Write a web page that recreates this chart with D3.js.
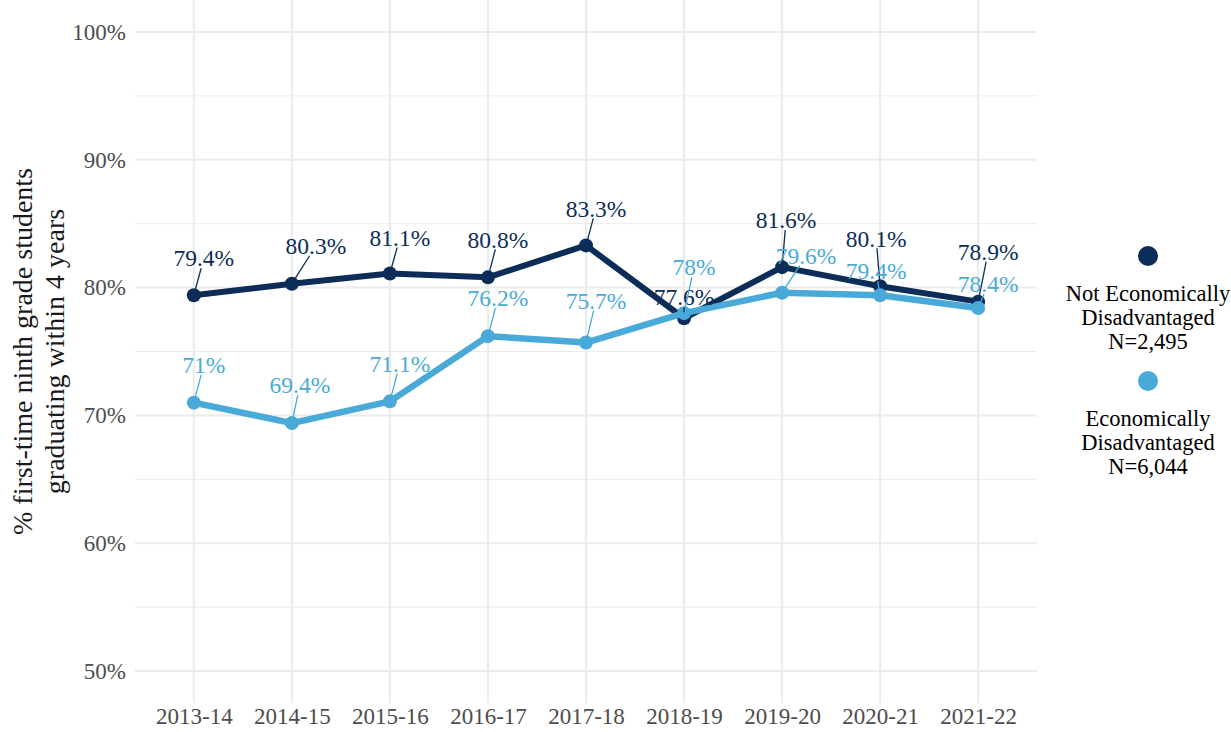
<!DOCTYPE html>
<html>
<head>
<meta charset="utf-8">
<script src="https://cdn.jsdelivr.net/npm/d3@7"></script>
<style>
  body { margin: 0; background: #fff; }
  svg { display: block; font-family: "Liberation Serif", "DejaVu Serif", serif; }
</style>
</head>
<body>
<svg id="chart" width="1231" height="732"></svg>
<script>
// ---- data ----
const years = ["2013-14","2014-15","2015-16","2016-17","2017-18","2018-19","2019-20","2020-21","2021-22"];
const notEconDis = [79.4, 80.3, 81.1, 80.8, 83.3, 77.6, 81.6, 80.1, 78.9];
const econDis = [71, 69.4, 71.1, 76.2, 75.7, 78, 79.6, 79.4, 78.4];
const seriesNames = ["Not Economically\nDisadvantaged\nN=2,495", "Economically\nDisadvantaged\nN=6,044"];
const yTicks = [50, 60, 70, 80, 90, 100];
const yMinor = [55, 65, 75, 85, 95];

// ---- layout (label repel offsets, px, relative to point) ----
const labelOffsetDark = [[10,-37],[24,-38],[10,-36],[10,-38],[10,-37],[0,-21],[4,-47],[-4,-48],[10,-50]];
const labelOffsetLight = [[10,-38],[8,-38],[10,-38],[10,-38],[10,-42],[10,-46],[24,-37],[-4,-24],[10,-24]];

const colors = ["#0c2d57", "#49aad9"];
const svg = d3.select("#chart");
const margin = {left: 135, right: 1037, top: 0, bottom: 703};

const x = d3.scalePoint().domain(years).range([margin.left, margin.right]).padding(0.6);
const y = d3.scaleLinear().domain([47.5, 102.5]).range([margin.bottom, margin.top]);

const grid = svg.append("g");
grid.selectAll(".minor").data(yMinor).join("line")
  .attr("x1", margin.left).attr("x2", margin.right)
  .attr("y1", d => y(d)).attr("y2", d => y(d))
  .attr("stroke", "#ebebeb").attr("stroke-width", 1);
grid.selectAll(".major").data(yTicks).join("line")
  .attr("x1", margin.left).attr("x2", margin.right)
  .attr("y1", d => y(d)).attr("y2", d => y(d))
  .attr("stroke", "#ebebeb").attr("stroke-width", 2);
grid.selectAll(".vx").data(years).join("line")
  .attr("x1", d => x(d)).attr("x2", d => x(d))
  .attr("y1", margin.top).attr("y2", margin.bottom)
  .attr("stroke", "#ebebeb").attr("stroke-width", 2);

// axes (text only)
const yAxis = svg.append("g").attr("transform", `translate(${margin.left},0)`)
  .call(d3.axisLeft(y).tickValues(yTicks).tickFormat(d => d + "%").tickSize(0).tickPadding(9));
yAxis.select(".domain").remove();
yAxis.selectAll("text").attr("font-size", 23).attr("fill", "#4d4d4d").attr("font-family", "Liberation Serif");

const xAxis = svg.append("g").attr("transform", `translate(0,${margin.bottom})`)
  .call(d3.axisBottom(x).tickSize(0).tickPadding(5));
xAxis.select(".domain").remove();
xAxis.selectAll("text").attr("font-size", 23).attr("fill", "#4d4d4d").attr("font-family", "Liberation Serif");

// y title
const yTitle = svg.append("text")
  .attr("transform", `translate(22,${(margin.top + margin.bottom) / 2}) rotate(-90)`)
  .attr("text-anchor", "middle").attr("font-size", 28).attr("fill", "#1a1a1a");
yTitle.append("tspan").attr("x", 0).attr("dy", "0.35em").text("% first-time ninth grade students");
yTitle.append("tspan").attr("x", 0).attr("dy", "1.15em").text("graduating within 4 years");

const series = [notEconDis, econDis];
const offsets = [labelOffsetDark, labelOffsetLight];
const line = d3.line().x((d, i) => x(years[i])).y(d => y(d));

series.forEach((vals, s) => {
  svg.append("path").datum(vals)
    .attr("d", line).attr("fill", "none")
    .attr("stroke", colors[s]).attr("stroke-width", s === 0 ? 6 : 6.5)
    .attr("stroke-linejoin", "round");
  svg.append("g").selectAll("circle").data(vals).join("circle")
    .attr("cx", (d, i) => x(years[i])).attr("cy", d => y(d))
    .attr("r", 7).attr("fill", colors[s]);
});

series.forEach((vals, s) => {
  const g = svg.append("g");
  vals.forEach((v, i) => {
    const px = x(years[i]), py = y(v);
    const [dx, dy] = offsets[s][i];
    const cx = px + dx, cy = py + dy;
    const t = g.append("text")
      .attr("x", cx).attr("y", cy).attr("dy", "0.35em")
      .attr("text-anchor", "middle").attr("font-size", 23.5)
      .attr("fill", colors[s]).text(v + "%");
    const bb = t.node().getBBox();
    const hw = bb.width / 2 + 1, hh = 10;
    const vx = cx - px, vy = cy - py;
    let tt = Math.max((Math.abs(vy) - hh) / Math.abs(vy), 0);
    if (Math.abs(vx) > hw) tt = Math.max(tt, (Math.abs(vx) - hw) / Math.abs(vx));
    const ex = px + vx * tt, ey = py + vy * tt;
    const len = Math.hypot(ex - px, ey - py);
    if (len > 6) {
      const sx = px + (ex - px) * (6 / len), sy = py + (ey - py) * (6 / len);
      g.insert("line", "text").attr("x1", sx).attr("y1", sy).attr("x2", ex).attr("y2", ey)
        .attr("stroke", colors[s]).attr("stroke-width", 1.3);
    }
  });
});

// legend
const legendX = 1148;
const legendTop = [256, 381];
seriesNames.forEach((name, s) => {
  svg.append("circle").attr("cx", legendX).attr("cy", legendTop[s]).attr("r", 10).attr("fill", colors[s]);
  const t = svg.append("text").attr("x", legendX).attr("y", legendTop[s] + 37).attr("dy", "0.35em")
    .attr("text-anchor", "middle").attr("font-size", 22.5).attr("fill", "#000");
  name.split("\n").forEach((ln, k) => {
    t.append("tspan").attr("x", legendX).attr("dy", k === 0 ? "0.35em" : "1.07em").text(ln);
  });
});
</script>
</body>
</html>
